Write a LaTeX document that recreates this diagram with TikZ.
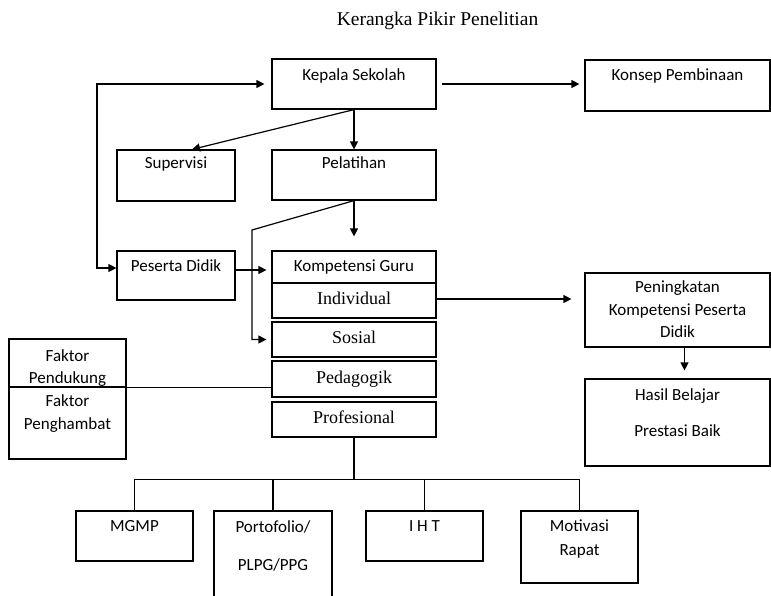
\documentclass[tikz,border=0pt]{standalone}
\usepackage{fontspec}
\setmainfont{Liberation Serif}
\newfontfamily\sansteks{Carlito}
\usetikzlibrary{arrows.meta}

\begin{document}
\begin{tikzpicture}[x=1pt, y=-1pt, line width=1.2pt,
    kotak/.style={draw, inner sep=0pt},
    tulis/.style={font=\sansteks\fontsize{17}{22.5}\selectfont, align=center, anchor=base, inner sep=0pt},
    serif/.style={font=\fontsize{18}{22}\selectfont, text height=12pt, text depth=4pt},
    panah/.style={-{Triangle[width=8pt,length=8pt]}},
    duapanah/.style={{Triangle[width=8pt,length=8pt]}-{Triangle[width=8pt,length=8pt]}}]
\clip (0,0) rectangle (771,595);

\node[font=\fontsize{19.5}{22}\selectfont, anchor=base] (judul) at (437.5,25) {Kerangka Pikir Penelitian};

\node[kotak, minimum width=164pt, minimum height=50pt, label={[tulis, yshift=-22.5pt]north:Kepala Sekolah}] (kepala) at (354,84) {};
\node[kotak, minimum width=185pt, minimum height=51pt, label={[tulis, yshift=-21.5pt]north:Konsep Pembinaan}] (konsep) at (677.5,85.5) {};
\node[kotak, minimum width=118pt, minimum height=51pt, label={[tulis, yshift=-19.5pt]north:Supervisi}] (supervisi) at (176,175.5) {};
\node[kotak, minimum width=164pt, minimum height=50pt, label={[tulis, yshift=-19.5pt]north:Pelatihan}] (pelatihan) at (354,175) {};
\node[kotak, minimum width=118pt, minimum height=49pt, label={[tulis, yshift=-21.5pt]north:Peserta Didik}] (peserta) at (176,275.5) {};

\node[kotak, minimum width=164pt, minimum height=32pt, font=\sansteks\fontsize{17}{20}\selectfont, text height=12pt, text depth=4pt] (guru) at (354,267) {Kompetensi Guru};
\node[kotak, serif, minimum width=164pt, minimum height=35pt] (individual) at (354,300.5) {Individual};
\node[kotak, serif, minimum width=164pt, minimum height=35pt] (sosial) at (354,339.5) {Sosial};
\node[kotak, serif, minimum width=164pt, minimum height=36pt] (pedagogik) at (354,379) {Pedagogik};
\node[kotak, serif, minimum width=164pt, minimum height=35pt] (profesional) at (354,419.5) {Profesional};

\node[kotak, minimum width=117pt, minimum height=48pt, label={[tulis, yshift=-45.5pt]north:Faktor\\Pendukung}] (pendukung) at (67.5,363) {};
\node[kotak, minimum width=117pt, minimum height=72pt, label={[tulis, yshift=-43pt]north:Faktor\\Penghambat}] (penghambat) at (67.5,423) {};

\node[kotak, minimum width=185pt, minimum height=74pt, label={[tulis, yshift=-65.5pt]north:Peningkatan\\Kompetensi Peserta\\Didik}] (peningkatan) at (677.5,310) {};
\node[kotak, minimum width=185pt, minimum height=87pt, label={[tulis, yshift=-58.5pt]north:Hasil Belajar\\[13.5pt]Prestasi Baik}] (hasil) at (677.5,422.5) {};

\node[kotak, minimum width=117pt, minimum height=50pt, label={[tulis, yshift=-21.5pt]north:MGMP}] (mgmp) at (134.5,536) {};
\node[kotak, minimum width=118pt, minimum height=100pt, label={[tulis, yshift=-60.5pt]north:Portofolio/\\[15.5pt]PLPG/PPG}] (portofolio) at (273,561) {};
\node[kotak, minimum width=117pt, minimum height=50pt, label={[tulis, yshift=-21.5pt]north:I H T}] (iht) at (424.5,536) {};
\node[kotak, minimum width=117pt, minimum height=72pt, label={[tulis, yshift=-45.5pt]north:Motivasi\\[1.5pt]Rapat}] (motivasi) at (579.5,547) {};

\coordinate (kiri) at (97,85);
\coordinate (belok) at (252,230);

\draw[panah, shorten <=5pt, shorten >=5pt] (kepala.east) -- (kepala.east -| konsep.west);
\draw[panah] (kepala.south) -- ([xshift=16pt]supervisi.north);
\draw[panah] (kepala.south) -- (pelatihan.north);
\draw[duapanah] ([xshift=-7pt]kepala.west) -- (kepala.west -| kiri) |- ([yshift=7.5pt]peserta.west);
\draw[panah, shorten >=5pt] ([yshift=5.5pt]peserta.east) -- ([yshift=5.5pt]peserta.east -| guru.west);
\draw[panah, shorten >=14pt] (pelatihan.south) -- (guru.north);
\draw[panah, shorten >=5pt] (pelatihan.south) -- (belok) |- (sosial.west);
\draw[panah, shorten >=13pt] ([yshift=1.5pt]individual.east) -- ([yshift=1.5pt]individual.east -| peningkatan.west);
\draw[panah, shorten >=8pt] ([xshift=7pt]peningkatan.south) -- ([xshift=7pt]hasil.north);
\draw (pendukung.south east) -- (pendukung.south east -| pedagogik.west);

\draw (profesional.south) -- ++(0,42) coordinate (cabang);
\foreach \n in {mgmp,portofolio,iht,motivasi}
    \draw (cabang) -| (\n.north);
\end{tikzpicture}
\end{document}
